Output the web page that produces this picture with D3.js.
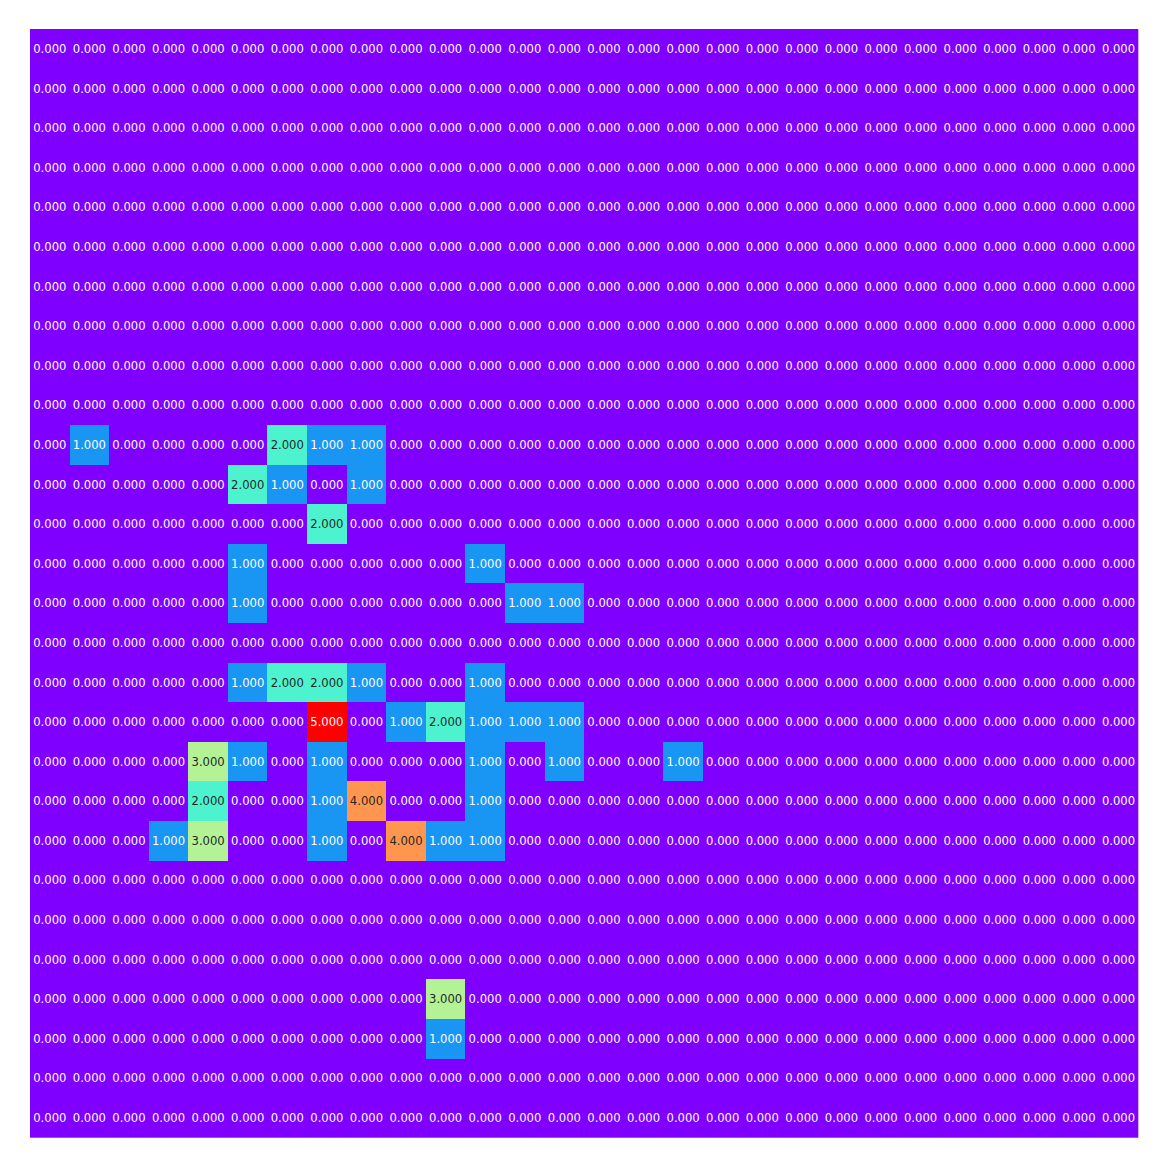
<!DOCTYPE html>
<html>
	<head>
		<title>Heatmap</title>
		<style>
			body, html { margin: 0; padding: 0; background: #fff; }
			.label { font: 11.6px "DejaVu Sans", sans-serif; }
		</style>
	</head>
	<body>
		<svg id="svg" width="1168" height="1168"></svg>

		<script src="https://d3js.org/d3.v7.min.js"></script>
		<script>
			// 28 x 28 grid of counts, mostly zeros
			const nRows = 28
			const nCols = 28
			// non-zero cells: [row, col, value]
			const hotRows = [10, 10, 10, 10, 11, 11, 11, 12, 13, 13, 14, 14, 14,
				16, 16, 16, 16, 16, 17, 17, 17, 17, 17, 17,
				18, 18, 18, 18, 18, 18, 19, 19, 19, 19,
				20, 20, 20, 20, 20, 20, 24, 25]
			const hotCols = [1, 6, 7, 8, 5, 6, 8, 7, 5, 11, 5, 12, 13,
				5, 6, 7, 8, 11, 7, 9, 10, 11, 12, 13,
				4, 5, 7, 11, 13, 16, 4, 7, 8, 11,
				3, 4, 7, 9, 10, 11, 10, 10]
			const hotValues = [1, 2, 1, 1, 2, 1, 1, 2, 1, 1, 1, 1, 1,
				1, 2, 2, 1, 1, 5, 1, 2, 1, 1, 1,
				3, 1, 1, 1, 1, 1, 2, 1, 4, 1,
				1, 3, 1, 4, 1, 1, 3, 1]

			// build full matrix
			const grid = d3.range(nRows).map(() => d3.range(nCols).map(() => 0))
			hotValues.forEach((v, i) => { grid[hotRows[i]][hotCols[i]] = v })
			const cells = []
			grid.forEach((row, r) => row.forEach((v, c) => cells.push({ r, c, v })))

			// matplotlib "rainbow" colormap
			function rainbow(t) {
				t = Math.floor(Math.min(t, 1) * 255.999) / 255
				const r = Math.min(1, Math.abs(2 * t - 0.5))
				const g = Math.sin(t * Math.PI)
				const b = Math.cos(t * Math.PI / 2)
				return d3.rgb(r * 255, g * 255, b * 255)
			}
			function luminance(c) {
				const f = x => { x /= 255; return x <= 0.03928 ? x / 12.92 : Math.pow((x + 0.055) / 1.055, 2.4) }
				return 0.2126 * f(c.r) + 0.7152 * f(c.g) + 0.0722 * f(c.b)
			}
			const vmax = d3.max(hotValues)
			const color = v => rainbow(v / vmax)

			const x = d3.scaleBand().domain(d3.range(nCols)).range([30, 1138.3])
			const y = d3.scaleBand().domain(d3.range(nRows)).range([29, 1137.7])

			const svg = d3.select('#svg')

			// background in the base colour so no seams show between cells
			svg.append('rect')
				.attr('x', 30).attr('y', 29)
				.attr('width', 1108.3).attr('height', 1108.7)
				.attr('fill', color(0))

			svg.append('g')
				.attr('shape-rendering', 'crispEdges')
				.selectAll('rect')
				.data(cells.filter(d => d.v > 0))
				.enter().append('rect')
				.attr('x', d => x(d.c))
				.attr('y', d => y(d.r))
				.attr('width', x.bandwidth())
				.attr('height', y.bandwidth())
				.attr('fill', d => color(d.v))

			svg.append('g')
				.selectAll('text')
				.data(cells)
				.enter().append('text')
				.attr('class', 'label')
				.attr('x', d => x(d.c) + x.bandwidth() / 2)
				.attr('y', d => y(d.r) + y.bandwidth() / 2)
				.attr('dy', '0.36em')
				.attr('text-anchor', 'middle')
				.attr('fill', d => luminance(color(d.v)) > 0.408 ? '#262626' : '#ffffff')
				.text(d => d3.format('.3f')(d.v))
		</script>
	</body>
</html>
